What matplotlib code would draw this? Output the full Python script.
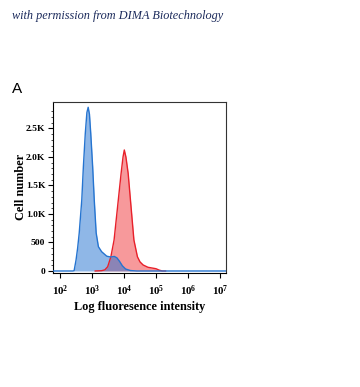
import numpy as np
import matplotlib
matplotlib.use("Agg")
from matplotlib import pyplot as plt
from matplotlib.ticker import FixedLocator, NullFormatter, LogLocator

# histogram: log10(intensity) and cell counts
blue_logx = [1.78, 2.40, 2.44, 2.50, 2.55, 2.60, 2.68, 2.73, 2.79, 2.84, 2.88, 2.92,
             2.96, 3.02, 3.07, 3.13, 3.20, 3.30, 3.46, 3.58, 3.70, 3.78, 3.86, 3.95,
             4.05, 4.20, 4.40, 7.19]
blue_count = [0, 0, 5, 190, 400, 667, 1246, 1830, 2416, 2780, 2872, 2750,
              2416, 1830, 1246, 667, 426, 339, 260, 245, 255, 230, 170, 90,
              35, 8, 0, 0]

red_logx = [3.10, 3.30, 3.40, 3.49, 3.59, 3.69, 3.80, 3.91, 3.97, 4.01, 4.06, 4.13,
            4.22, 4.31, 4.42, 4.50, 4.60, 4.75, 4.90, 5.00, 5.10, 5.20, 5.30]
red_count = [0, 5, 20, 75, 250, 544, 1128, 1714, 2000, 2123, 2000, 1714,
             1128, 544, 250, 160, 105, 65, 50, 40, 15, 0, 0]

ytick_vals = [0, 500, 1000, 1500, 2000, 2500]
ytick_labels = ["0", "500", "1.0K", "1.5K", "2.0K", "2.5K"]
xtick_exps = [2, 3, 4, 5, 6, 7]

serif = ["Liberation Serif", "DejaVu Serif"]
plt.rcParams["mathtext.fontset"] = "custom"
plt.rcParams["mathtext.bf"] = "Liberation Serif:bold"
plt.rcParams["mathtext.rm"] = "Liberation Serif"

fig = plt.figure(figsize=(3.6, 3.87), dpi=100)
fig.text(12/360, 1-16/387, "with permission from DIMA Biotechnology", fontsize=8.85,
         style="italic", family=serif, color="#1c2b5c", va="center", ha="left")
fig.text(12/360, 1-89/387, "A", fontsize=11, family=["Liberation Sans"], va="center", ha="left")

ax = fig.add_axes([53/360, 1-272.7/387, 173/360, 171/387])

bx = 10**np.array(blue_logx)
rx = 10**np.array(red_logx)
ax.fill_between(rx, red_count, color=(241/255, 53/255, 57/255), alpha=0.5, lw=0, zorder=1)
ax.fill_between(bx, blue_count, color=(33/255, 113/255, 209/255), alpha=0.5, lw=0, zorder=2)
ax.plot(rx, red_count, color="#e8202a", lw=1.0, zorder=3)
ax.plot(bx, blue_count, color="#2574d0", lw=1.0, zorder=4)

ax.set_xscale("log")
ax.set_xlim(10**1.78, 10**7.19)
ax.set_ylim(-30, 2970)

ax.xaxis.set_major_locator(FixedLocator([10.0**e for e in xtick_exps]))
ax.set_xticklabels([r"$\mathbf{10^{%d}}$" % e for e in xtick_exps])
ax.xaxis.set_minor_locator(LogLocator(base=10, subs=np.arange(2, 10)))
ax.xaxis.set_minor_formatter(NullFormatter())
ax.set_yticks(ytick_vals)
ax.set_yticklabels(ytick_labels)
ax.yaxis.set_minor_locator(FixedLocator(np.arange(100, 2900, 100)))

for lab in ax.get_yticklabels():
    lab.set_fontfamily(serif)
    lab.set_fontweight("bold")
    lab.set_fontsize(6.8)
for lab in ax.get_xticklabels():
    lab.set_fontsize(7.8)

ax.tick_params(which="major", direction="out", length=3.5, width=0.8)
ax.tick_params(axis="y", which="major", pad=2)
ax.tick_params(axis="x", which="major", pad=4)
ax.tick_params(which="minor", direction="out", length=1.8, width=0.5)
for s in ax.spines.values():
    s.set_linewidth(0.8)
    s.set_color("#333333")
ax.spines["left"].set_color("black")
ax.spines["bottom"].set_color("black")

ax.set_ylabel("Cell number", family=serif, fontweight="bold", fontsize=8.8)
ax.set_xlabel("Log fluoresence intensity", family=serif, fontweight="bold", fontsize=8.8)
ax.yaxis.set_label_coords(-0.150, 0.5)
ax.xaxis.set_label_coords(0.5, -0.165)

fig.savefig("out.png", dpi=100)
